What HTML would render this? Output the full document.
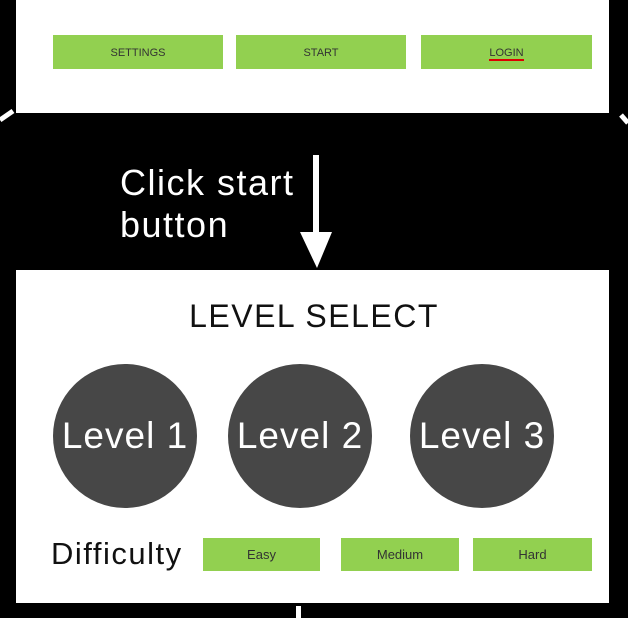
<!DOCTYPE html>
<html><head><style>
body{margin:0;width:628px;height:618px;background:#000;position:relative;overflow:hidden;font-family:"Liberation Sans",sans-serif}
.p{position:absolute;background:#fff}
.b{position:absolute;background:#92d050;font-size:11px;color:#333;display:flex;align-items:center;justify-content:center}
.c{position:absolute;width:144px;height:144px;border-radius:50%;background:#474747;color:#fff;font-size:37px;letter-spacing:1px;display:flex;align-items:center;justify-content:center}
.t{position:absolute;white-space:nowrap}
</style></head><body>
<div class="p" style="left:16px;top:0;width:593px;height:113px"></div>
<div class="b" style="left:53px;top:35px;width:170px;height:34px;padding-top:1px;box-sizing:border-box">SETTINGS</div>
<div class="b" style="left:236px;top:35px;width:170px;height:34px;padding-top:1px;box-sizing:border-box">START</div>
<div class="b" style="left:421px;top:35px;width:171px;height:34px;padding-top:4px;box-sizing:border-box"><span style="border-bottom:2px solid #d00;line-height:12px">LOGIN</span></div>
<div class="t" style="left:120px;top:162px;color:#fff;font-size:36px;line-height:42px;letter-spacing:1.5px">Click start<br>button</div>
<svg style="position:absolute;left:0;top:0" width="628" height="618">
<line x1="316" y1="155" x2="316" y2="240" stroke="#fff" stroke-width="6"/>
<polygon points="300,232 332,232 317,268" fill="#fff"/>
<line x1="0" y1="120" x2="13" y2="111" stroke="#fff" stroke-width="5"/>
<line x1="621" y1="115" x2="628" y2="123" stroke="#fff" stroke-width="5"/>
<rect x="296" y="606" width="5" height="12" fill="#fff"/>
</svg>
<div class="p" style="left:16px;top:270px;width:593px;height:333px"></div>
<div class="t" style="left:0;width:628px;text-align:center;top:298px;font-size:32px;color:#111;letter-spacing:1.5px">LEVEL SELECT</div>
<div class="c" style="left:53px;top:364px">Level 1</div>
<div class="c" style="left:228px;top:364px">Level 2</div>
<div class="c" style="left:410px;top:364px">Level 3</div>
<div class="t" style="left:51px;top:536px;font-size:31px;color:#111;letter-spacing:1.5px">Difficulty</div>
<div class="b" style="left:203px;top:538px;width:117px;height:33px;font-size:13px">Easy</div>
<div class="b" style="left:341px;top:538px;width:118px;height:33px;font-size:13px">Medium</div>
<div class="b" style="left:473px;top:538px;width:119px;height:33px;font-size:13px">Hard</div>
</body></html>
